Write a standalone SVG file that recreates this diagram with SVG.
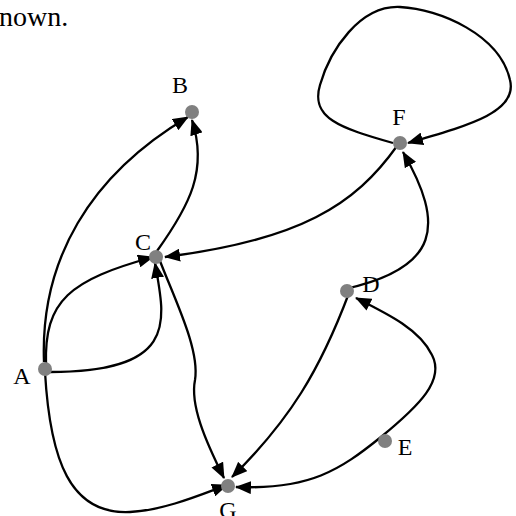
<svg xmlns="http://www.w3.org/2000/svg" width="516" height="516" viewBox="0 0 516 516">
<style>
.edge{fill:none;stroke:#000;stroke-width:2.3;marker-end:url(#arr)}
.node circle{fill:#808080}
.lbl{font-family:"Liberation Serif","Times New Roman",serif;font-size:24px;fill:#000;text-anchor:middle}
.cap{font-family:"Liberation Serif","Times New Roman",serif;font-size:28px;fill:#000}
</style>
<defs>
<marker id="arr" markerUnits="userSpaceOnUse" markerWidth="16" markerHeight="13" viewBox="0 0 16 13" refX="15" refY="6.5" orient="auto">
<path d="M0,0 L16,6.5 L0,13 z" fill="#000"/>
</marker>
</defs>
<rect width="516" height="516" fill="#fff"/>
<text class="cap" x="-1" y="26">nown.</text>
<g id="edges">
<path id="A-B" class="edge" d="M44,362 C 40,260 90,175 188,117"/>
<path id="C-B" class="edge" d="M157,251 C 190,205 208,170 192,120"/>
<path id="A-C1" class="edge" d="M46,365 C 44,300 70,280 153,257"/>
<path id="A-C2" class="edge" d="M50,372 C 180,372 165,320 155,263"/>
<path id="F-C" class="edge" d="M397,146 C 355,205 300,240 165,257"/>
<path id="F-F" class="edge" d="M393,143 C 340,128 310,118 320,85 C 330,50 360,5 400,7 C 440,9 500,35 510,80 C 518,112 470,125 408,143"/>
<path id="C-G" class="edge" d="M160,261 C 175,300 200,350 195,380 C 190,405 205,440 224,478"/>
<path id="D-G" class="edge" d="M349,293 C 320,370 290,420 232,477"/>
<path id="D-F" class="edge" d="M345,289 C 440,268 445,225 403,152"/>
<path id="E-D" class="edge" d="M381,437 C 420,405 445,380 432,355 C 420,330 390,315 356,298"/>
<path id="E-G" class="edge" d="M381,437 C 340,470 310,490 236,487"/>
<path id="A-G" class="edge" d="M45,372 C 50,460 70,515 130,512 C 165,510 200,495 227,485"/>
</g>
<g id="A" class="node"><circle cx="45" cy="369" r="7"/><text class="lbl" x="22" y="384">A</text></g>
<g id="B" class="node"><circle cx="192" cy="112" r="7"/><text class="lbl" x="180" y="93">B</text></g>
<g id="C" class="node"><circle cx="156" cy="257" r="7"/><text class="lbl" x="143" y="250">C</text></g>
<g id="D" class="node"><circle cx="347" cy="291" r="7"/><text class="lbl" x="371" y="292">D</text></g>
<g id="E" class="node"><circle cx="385" cy="441" r="7"/><text class="lbl" x="405" y="455">E</text></g>
<g id="F" class="node"><circle cx="400" cy="143" r="7"/><text class="lbl" x="399" y="125">F</text></g>
<g id="G" class="node"><circle cx="228" cy="486" r="7"/><text class="lbl" x="228" y="518">G</text></g>
</svg>
